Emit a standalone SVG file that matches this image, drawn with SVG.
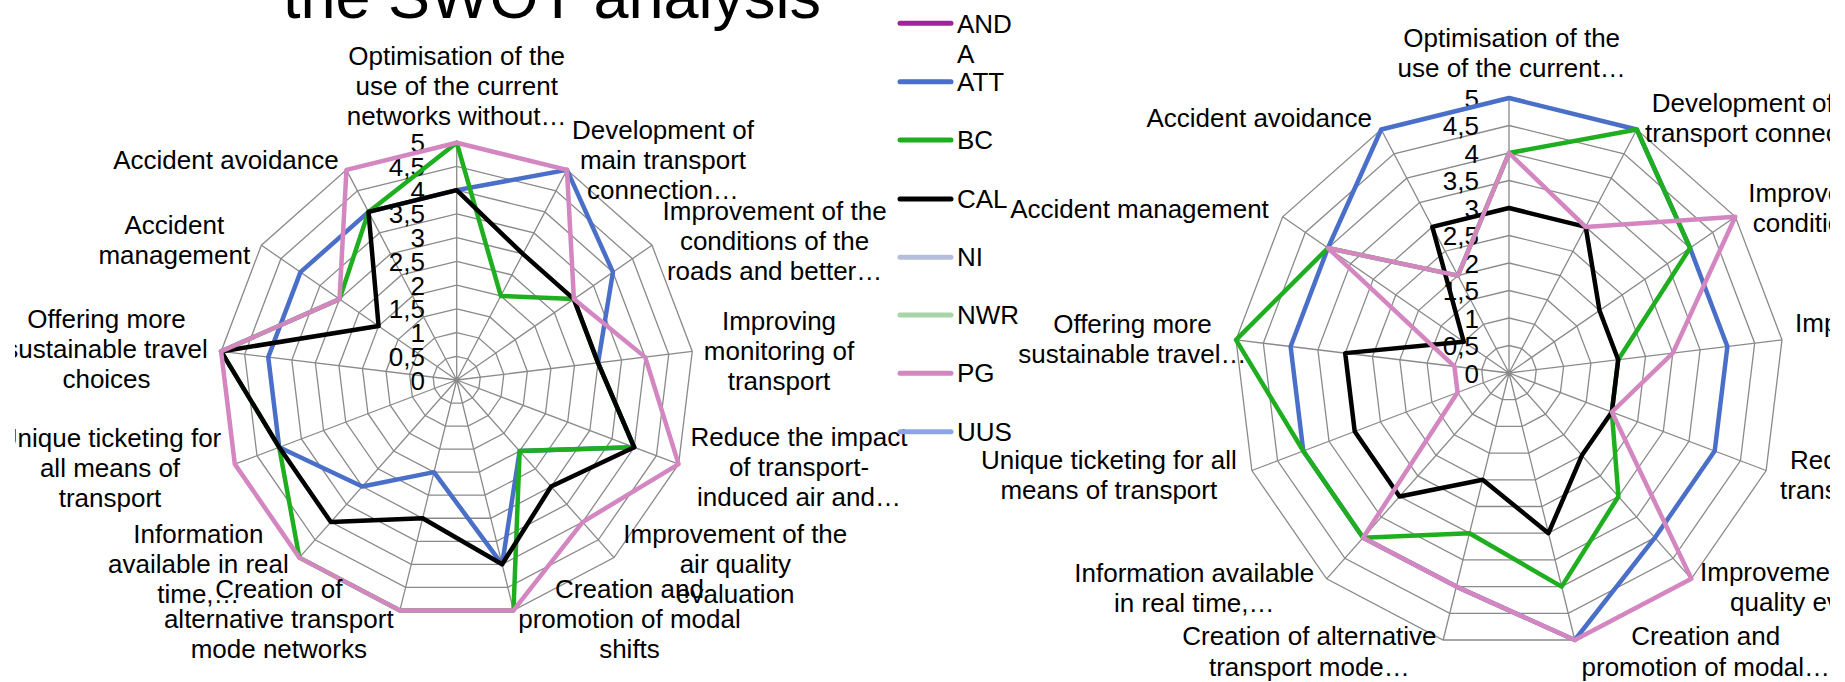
<svg xmlns="http://www.w3.org/2000/svg" xmlns:xlink="http://www.w3.org/1999/xlink" width="1845" height="682" viewBox="0 0 1845 682">
<style>
text{font-family:"Liberation Sans",Arial,sans-serif;font-size:26px;fill:#000}
.c{text-anchor:middle}
.e{text-anchor:end}
.grid{fill:none;stroke:#8a8a8a;stroke-width:1.3}
.s{fill:none;stroke-width:4.5;stroke-linejoin:round;vector-effect:non-scaling-stroke}
.att{stroke:#4a6fc9}
.bc{stroke:#1fae1f}
.cal{stroke:#000}
.pg{stroke:#d386c0}
.lg{stroke-width:5;stroke-linecap:round}
</style>
<defs>
<polygon id="ring" vector-effect="non-scaling-stroke" points="0,-1 0.4647,-0.8855 0.8230,-0.5681 0.9927,-0.1205 0.9350,0.3546 0.6631,0.7485 0.2393,0.9709 -0.2393,0.9709 -0.6631,0.7485 -0.9350,0.3546 -0.9927,-0.1205 -0.8230,-0.5681 -0.4647,-0.8855"/>
<path id="spokes" vector-effect="non-scaling-stroke" d="M0 0L0 -1M0 0L0.4647 -0.8855M0 0L0.8230 -0.5681M0 0L0.9927 -0.1205M0 0L0.9350 0.3546M0 0L0.6631 0.7485M0 0L0.2393 0.9709M0 0L-0.2393 0.9709M0 0L-0.6631 0.7485M0 0L-0.9350 0.3546M0 0L-0.9927 -0.1205M0 0L-0.8230 -0.5681M0 0L-0.4647 -0.8855"/>
<clipPath id="clipL"><rect x="15" y="0" width="900" height="682"/></clipPath>
<clipPath id="clipR"><rect x="960" y="0" width="870" height="682"/></clipPath>
</defs>
<rect width="1845" height="682" fill="#fff"/>
<text id="title" x="283" y="17.5" style="font-size:63px">the SWOT analysis</text>

<g id="chart-left" clip-path="url(#clipL)">
<g class="grid" transform="translate(456.7,380)">
<use href="#spokes" transform="scale(237.3)"/>
<use href="#ring" transform="scale(23.73)"/>
<use href="#ring" transform="scale(47.46)"/>
<use href="#ring" transform="scale(71.19)"/>
<use href="#ring" transform="scale(94.92)"/>
<use href="#ring" transform="scale(118.65)"/>
<use href="#ring" transform="scale(142.38)"/>
<use href="#ring" transform="scale(166.11)"/>
<use href="#ring" transform="scale(189.84)"/>
<use href="#ring" transform="scale(213.57)"/>
<use href="#ring" transform="scale(237.3)"/>
</g>
<g id="axis-left" class="e">
<text class="e" x="425" y="389.5">0</text>
<text class="e" x="425" y="365.8">0,5</text>
<text class="e" x="425" y="342">1</text>
<text class="e" x="425" y="318.3">1,5</text>
<text class="e" x="425" y="294.6">2</text>
<text class="e" x="425" y="270.8">2,5</text>
<text class="e" x="425" y="247.1">3</text>
<text class="e" x="425" y="223.4">3,5</text>
<text class="e" x="425" y="199.7">4</text>
<text class="e" x="425" y="175.9">4,5</text>
<text class="e" x="425" y="152.2">5</text>
</g>
<g id="series-left" transform="translate(456.7,380) scale(47.46)">
<polygon class="s att" points="0,-4 2.3235,-4.4275 3.292,-2.2724 2.9781,-0.3615 3.74,1.4184 1.3262,1.497 0.9572,3.8836 -0.4786,1.9418 -1.9893,2.2455 -3.74,1.4184 -3.9708,-0.482 -3.292,-2.2724 -1.8588,-3.542"/>
<polygon class="s bc" points="0,-5 0.9294,-1.771 2.469,-1.7043 2.9781,-0.3615 3.74,1.4184 1.3262,1.497 1.1965,4.8545 -1.1965,4.8545 -3.3155,3.7425 -3.74,1.4184 -4.9635,-0.6025 -2.469,-1.7043 -1.8588,-3.542"/>
<polygon class="s cal" points="0,-4 1.3941,-2.6565 2.469,-1.7043 2.9781,-0.3615 3.74,1.4184 1.9893,2.2455 0.9572,3.8836 -0.7179,2.9127 -2.6524,2.994 -3.74,1.4184 -4.9635,-0.6025 -1.646,-1.1362 -1.8588,-3.542"/>
<polygon class="s pg" points="0,-5 2.3235,-4.4275 2.469,-1.7043 3.9708,-0.482 4.675,1.773 2.6524,2.994 1.1965,4.8545 -1.1965,4.8545 -3.3155,3.7425 -4.675,1.773 -4.9635,-0.6025 -2.469,-1.7043 -2.3235,-4.4275"/>
</g>
<g id="labels-left" class="c">
<text class="c" x="456.7" y="65">Optimisation of the</text>
<text class="c" x="456.7" y="95">use of the current</text>
<text class="c" x="456.7" y="125">networks without…</text>
<text class="c" x="663" y="139">Development of</text>
<text class="c" x="663" y="169">main transport</text>
<text class="c" x="663" y="199">connection…</text>
<text class="c" x="774.6" y="219.5">Improvement of the</text>
<text class="c" x="774.6" y="249.5">conditions of the</text>
<text class="c" x="774.6" y="279.5">roads and better…</text>
<text class="c" x="779" y="330">Improving</text>
<text class="c" x="779" y="360">monitoring of</text>
<text class="c" x="779" y="390">transport</text>
<text class="c" x="799" y="446">Reduce the impact</text>
<text class="c" x="799" y="476">of transport-</text>
<text class="c" x="799" y="506">induced air and…</text>
<text class="c" x="735.3" y="543">Improvement of the</text>
<text class="c" x="735.3" y="573">air quality</text>
<text class="c" x="735.3" y="603">evaluation</text>
<text class="c" x="629.5" y="598">Creation and</text>
<text class="c" x="629.5" y="628">promotion of modal</text>
<text class="c" x="629.5" y="658">shifts</text>
<text class="c" x="278.8" y="598">Creation of</text>
<text class="c" x="278.8" y="628">alternative transport</text>
<text class="c" x="278.8" y="658">mode networks</text>
<text class="c" x="198.4" y="543">Information</text>
<text class="c" x="198.4" y="573">available in real</text>
<text class="c" x="198.4" y="603">time,…</text>
<text class="c" x="110" y="446.7">Unique ticketing for</text>
<text class="c" x="110" y="476.7">all means of</text>
<text class="c" x="110" y="506.7">transport</text>
<text class="c" x="106.5" y="328">Offering more</text>
<text class="c" x="106.5" y="358">sustainable travel</text>
<text class="c" x="106.5" y="388">choices</text>
<text class="c" x="174.3" y="234">Accident</text>
<text class="c" x="174.3" y="264">management</text>
<text class="c" x="226" y="169">Accident avoidance</text>
</g>
</g>

<g id="chart-right" clip-path="url(#clipR)">
<g class="grid" transform="translate(1509,373)">
<use href="#spokes" transform="scale(275)"/>
<use href="#ring" transform="scale(27.5)"/>
<use href="#ring" transform="scale(55)"/>
<use href="#ring" transform="scale(82.5)"/>
<use href="#ring" transform="scale(110)"/>
<use href="#ring" transform="scale(137.5)"/>
<use href="#ring" transform="scale(165)"/>
<use href="#ring" transform="scale(192.5)"/>
<use href="#ring" transform="scale(220)"/>
<use href="#ring" transform="scale(247.5)"/>
<use href="#ring" transform="scale(275)"/>
</g>
<g id="axis-right">
<text class="e" x="1479" y="382.5">0</text>
<text class="e" x="1479" y="355">0,5</text>
<text class="e" x="1479" y="327.5">1</text>
<text class="e" x="1479" y="300">1,5</text>
<text class="e" x="1479" y="272.5">2</text>
<text class="e" x="1479" y="245">2,5</text>
<text class="e" x="1479" y="217.5">3</text>
<text class="e" x="1479" y="190">3,5</text>
<text class="e" x="1479" y="162.5">4</text>
<text class="e" x="1479" y="135">4,5</text>
<text class="e" x="1479" y="107.5">5</text>
</g>
<g id="series-right" transform="translate(1509,373) scale(55)">
<polygon class="s att" points="0,-5 2.3235,-4.4275 3.292,-2.2724 3.9708,-0.482 3.74,1.4184 2.6524,2.994 1.1965,4.8545 -0.9572,3.8836 -2.6524,2.994 -3.74,1.4184 -3.9708,-0.482 -3.292,-2.2724 -2.3235,-4.4275"/>
<polygon class="s bc" points="0,-4 2.3235,-4.4275 3.292,-2.2724 1.9854,-0.241 1.87,0.7092 1.9893,2.2455 0.9572,3.8836 -0.7179,2.9127 -2.6524,2.994 -3.74,1.4184 -4.9635,-0.6025 -3.292,-2.2724 -0.9294,-1.771"/>
<polygon class="s cal" points="0,-3 1.3941,-2.6565 1.646,-1.1362 1.9854,-0.241 1.87,0.7092 1.3262,1.497 0.7179,2.9127 -0.4786,1.9418 -1.9893,2.2455 -2.805,1.0638 -2.9781,-0.3615 -0.823,-0.5681 -1.3941,-2.6565"/>
<polygon class="s pg" points="0,-4 1.3941,-2.6565 4.115,-2.8405 2.9781,-0.3615 1.87,0.7092 3.3155,3.7425 1.1965,4.8545 -0.9572,3.8836 -2.6524,2.994 -0.935,0.3546 -0.9927,-0.1205 -3.292,-2.2724 -0.9294,-1.771"/>
</g>
<g id="labels-right">
<text class="c" x="1511.7" y="47">Optimisation of the</text>
<text class="c" x="1511.7" y="77">use of the current…</text>
<text x="1651.7" y="111.5">Development of main</text>
<text x="1645" y="141.5">transport connection…</text>
<text x="1748.3" y="202">Improvement of the</text>
<text x="1752.7" y="232">conditions of the…</text>
<text x="1795" y="332">Improving monitoring of transport</text>
<text x="1790" y="469">Reduce the impact of</text>
<text x="1780" y="499">transport-induced air…</text>
<text x="1700" y="581">Improvement of the air</text>
<text x="1730" y="611">quality evaluation</text>
<text class="c" x="1705.8" y="645">Creation and</text>
<text class="c" x="1705.8" y="676">promotion of modal…</text>
<text class="c" x="1309.4" y="645">Creation of alternative</text>
<text class="c" x="1309.4" y="676">transport mode…</text>
<text class="c" x="1194.3" y="582">Information available</text>
<text class="c" x="1194.3" y="612">in real time,…</text>
<text class="c" x="1108.8" y="469">Unique ticketing for all</text>
<text class="c" x="1108.8" y="499">means of transport</text>
<text class="c" x="1132.4" y="333">Offering more</text>
<text class="c" x="1132.4" y="363">sustainable travel…</text>
<text class="c" x="1139.5" y="218">Accident management</text>
<text class="c" x="1259.2" y="127">Accident avoidance</text>
</g>
</g>

<g id="legend">
<line class="lg" x1="900" y1="23.3" x2="951" y2="23.3" stroke="#a3249a"/>
<text x="957" y="33.3">AND</text>
<text x="957" y="63.3">A</text>
<line class="lg" x1="900" y1="81.7" x2="951" y2="81.7" stroke="#4a6fc9"/>
<text x="957" y="90.7">ATT</text>
<line class="lg" x1="900" y1="140" x2="951" y2="140" stroke="#1fae1f"/>
<text x="957" y="149">BC</text>
<line class="lg" x1="900" y1="199" x2="951" y2="199" stroke="#000"/>
<text x="957" y="208">CAL</text>
<line class="lg" x1="900" y1="257.3" x2="951" y2="257.3" stroke="#b5bfd9"/>
<text x="957" y="266.3">NI</text>
<line class="lg" x1="900" y1="315" x2="951" y2="315" stroke="#a9d3a9"/>
<text x="957" y="324">NWR</text>
<line class="lg" x1="900" y1="373.3" x2="951" y2="373.3" stroke="#d386c0"/>
<text x="957" y="382.3">PG</text>
<line class="lg" x1="900" y1="431.7" x2="951" y2="431.7" stroke="#8da6e3"/>
<text x="957" y="440.7">UUS</text>
</g>
</svg>
